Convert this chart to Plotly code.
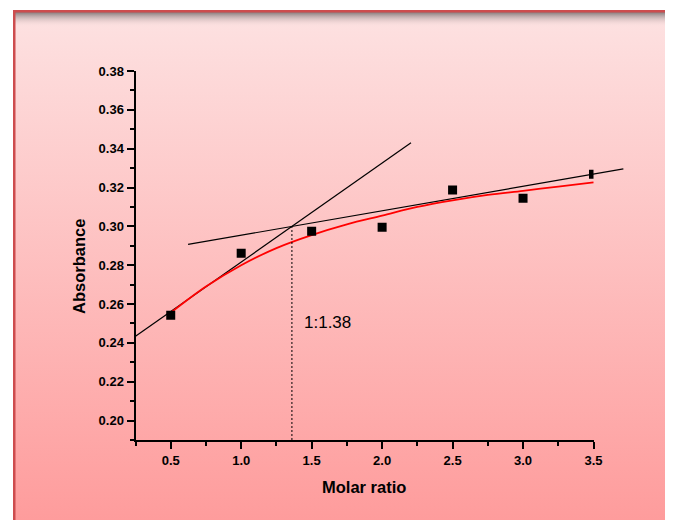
import base64
import plotly.graph_objects as go

# ---------------- data ----------------
ratio = [0.5, 1.0, 1.5, 2.0, 2.5, 3.0, 3.5]
absorbance = [0.2542, 0.2862, 0.2975, 0.2996, 0.3187, 0.3145, 0.3269]

fit_x = [0.5, 0.75, 1.0, 1.25, 1.5, 1.75, 2.0, 2.25, 2.5, 2.75, 3.0, 3.25, 3.5]
fit_y = [0.2555, 0.2690, 0.2800, 0.2888, 0.2955, 0.3010, 0.3055, 0.3100,
         0.3134, 0.3162, 0.3183, 0.3205, 0.3226]

steep_x = [0.25, 2.205]
steep_y = [0.2434, 0.3430]
flat_x = [0.623, 3.712]
flat_y = [0.2907, 0.3296]
cross_x = [1.36, 1.36]
cross_y = [0.19, 0.300]
cross_label = "1:1.38"
label_pos = (1.43, 0.2506)

x_ticks = [0.5, 1.0, 1.5, 2.0, 2.5, 3.0, 3.5]
y_ticks = [0.20, 0.22, 0.24, 0.26, 0.28, 0.30, 0.32, 0.34, 0.36, 0.38]
x_title = "Molar ratio"
y_title = "Absorbance"

# ---------------- layout geometry ----------------
OFF = 8                                     # page body margin of the html page
W, H = 673 - OFF, 520 - OFF
PL, PR, PT, PB = 128 - OFF, 629 - OFF, 71 - OFF, 440 - OFF   # plot area in px
AX0, AX1 = 135.5 - OFF, 593.5 - OFF         # px of x=0.25 and x=3.5
XMIN, XMAX = 0.25, 3.5
k = (AX1 - AX0) / (XMAX - XMIN)
pw, ph = PR - PL, PB - PT
ext_range = [XMIN - (AX0 - PL) / k, XMAX + (PR - AX1) / k]
vis_domain = [(AX0 - PL) / pw, (AX1 - PL) / pw]

FONT = "Arial, 'Liberation Sans', sans-serif"

# ---------------- background frame ----------------
svg = f"""<svg xmlns="http://www.w3.org/2000/svg" width="{W}" height="{H}" viewBox="0 0 {W} {H}" preserveAspectRatio="none">
<defs>
<linearGradient id="bg" x1="0" y1="{10 - OFF}" x2="0" y2="{520 - OFF}" gradientUnits="userSpaceOnUse">
<stop offset="0" stop-color="#fde2e2"/>
<stop offset="1" stop-color="#fe9c9c"/>
</linearGradient>
<linearGradient id="sh" x1="0" y1="0" x2="0" y2="1">
<stop offset="0" stop-color="#847879" stop-opacity="1"/>
<stop offset="1" stop-color="#fde2e2" stop-opacity="0"/>
</linearGradient>
</defs>
<rect width="{W}" height="{H}" fill="#ffffff"/>
<rect x="{13 - OFF}" y="{10 - OFF}" width="{W}" height="{H}" fill="url(#bg)"/>
<rect x="{15 - OFF}" y="{12 - OFF}" width="{W}" height="15" fill="url(#sh)"/>
<rect x="{13 - OFF}" y="{10 - OFF}" width="{W}" height="2.5" fill="#cd4c4e"/>
<rect x="{13 - OFF}" y="{10 - OFF}" width="2.5" height="{H}" fill="#cd4c4e"/>
</svg>"""
bg_uri = "data:image/svg+xml;base64," + base64.b64encode(svg.encode()).decode()

fig = go.Figure()

# lines on the extended (hidden) x axis
fig.add_trace(go.Scatter(x=steep_x, y=steep_y, mode="lines", xaxis="x", yaxis="y",
                         line=dict(color="black", width=1.2), hoverinfo="skip", showlegend=False))
fig.add_trace(go.Scatter(x=flat_x, y=flat_y, mode="lines", xaxis="x", yaxis="y",
                         line=dict(color="black", width=1.2), hoverinfo="skip", showlegend=False))
fig.add_trace(go.Scatter(x=fit_x, y=fit_y, mode="lines", xaxis="x", yaxis="y",
                         line=dict(color="#ff0000", width=1.8, shape="spline"),
                         hoverinfo="skip", showlegend=False))
fig.add_trace(go.Scatter(x=cross_x, y=cross_y, mode="lines", xaxis="x", yaxis="y",
                         line=dict(color="black", width=1, dash="2px,2px"),
                         hoverinfo="skip", showlegend=False))

# data points on the visible axis (clipped at 3.5 like the original)
fig.add_trace(go.Scatter(x=ratio, y=absorbance, mode="markers", xaxis="x2", yaxis="y",
                         marker=dict(symbol="square", size=9, color="black",
                                     line=dict(width=0)),
                         cliponaxis=True, showlegend=False))

tickfont = dict(family=FONT, size=13, color="black", weight="bold")

fig.update_layout(
    width=W, height=H,
    margin=dict(l=PL, r=W - PR, t=PT, b=H - PB, pad=0),
    paper_bgcolor="white",
    plot_bgcolor="rgba(0,0,0,0)",
    showlegend=False,
    xaxis=dict(domain=[0, 1], range=ext_range, visible=False, anchor="y", fixedrange=True),
    xaxis2=dict(domain=vis_domain, range=[XMIN, XMAX], anchor="y",
                showline=True, linecolor="black", linewidth=2,
                showgrid=False, zeroline=False,
                ticks="outside", ticklen=7, tickwidth=2, tickcolor="black",
                tickvals=x_ticks, ticktext=[f"{v:.1f}" for v in x_ticks],
                tickfont=tickfont,
                minor=dict(ticks="outside", ticklen=4, tickwidth=2, tickcolor="black",
                           tickvals=[0.25, 0.75, 1.25, 1.75, 2.25, 2.75, 3.25])),
    yaxis=dict(domain=[0, 1], range=[0.19, 0.38], anchor="x2",
               showline=True, linecolor="black", linewidth=2,
               showgrid=False, zeroline=False,
               ticks="outside", ticklen=7, tickwidth=2, tickcolor="black",
               tickvals=y_ticks, ticktext=[f"{v:.2f}" for v in y_ticks],
               tickfont=tickfont,
               minor=dict(ticks="outside", ticklen=4, tickwidth=2, tickcolor="black",
                          tickvals=[0.19, 0.21, 0.23, 0.25, 0.27, 0.29, 0.31, 0.33,
                                    0.35, 0.37])),
    images=[dict(source=bg_uri, xref="paper", yref="paper",
                 x=-PL / pw, y=1 + PT / ph, sizex=W / pw, sizey=H / ph,
                 xanchor="left", yanchor="top", sizing="stretch", layer="below")],
    annotations=[
        dict(text=cross_label, xref="x2", yref="y", x=label_pos[0], y=label_pos[1],
             xanchor="left", yanchor="middle", showarrow=False,
             font=dict(family=FONT, size=17, color="black")),
        dict(text=x_title, xref="paper", yref="paper",
             x=(364 - OFF - PL) / pw, y=(PB - (487 - OFF)) / ph,
             xanchor="center", yanchor="middle",
             showarrow=False, font=dict(family=FONT, size=16.5, color="black", weight="bold")),
        dict(text=y_title, xref="paper", yref="paper", textangle=-90,
             x=(79 - OFF - PL) / pw, y=(PB - (267 - OFF)) / ph,
             xanchor="center", yanchor="middle",
             showarrow=False, font=dict(family=FONT, size=16.5, color="black", weight="bold")),
    ],
)

fig.write_html("out.html")
